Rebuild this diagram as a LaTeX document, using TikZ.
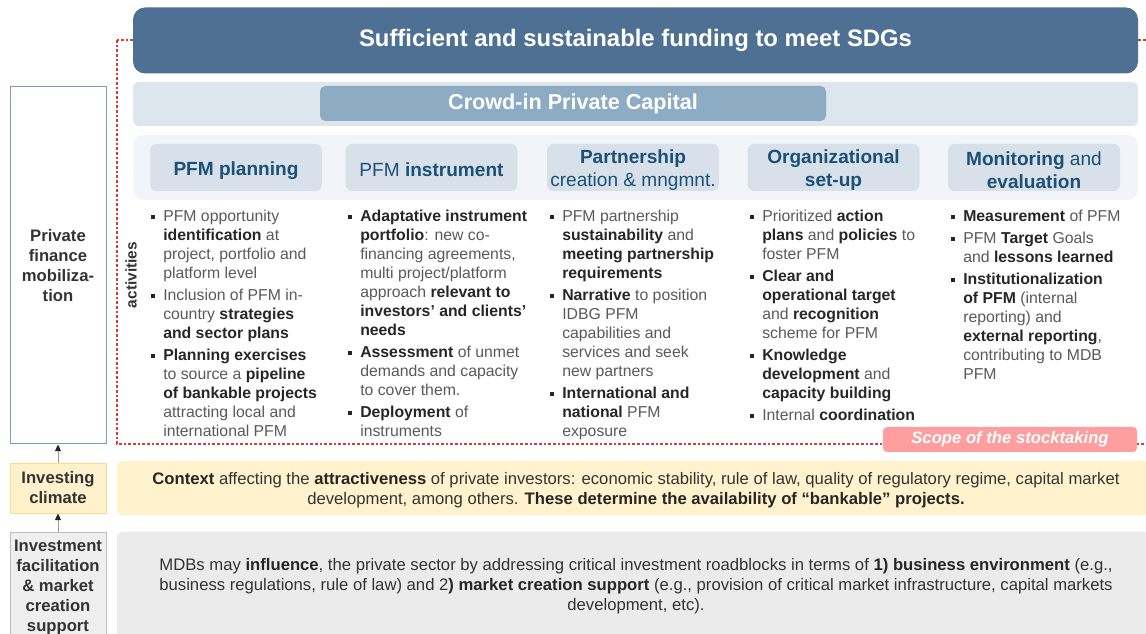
\documentclass[tikz,border=0pt]{standalone}
\usepackage{fontspec}
\setmainfont{Liberation Sans}
\usetikzlibrary{arrows.meta}

\definecolor{bannerblue}{HTML}{4E7092}
\definecolor{bandlight}{HTML}{DDE5ED}
\definecolor{crowdblue}{HTML}{8EABC4}
\definecolor{headband}{HTML}{F1F5F9}
\definecolor{headbox}{HTML}{D8E1EA}
\definecolor{headtext}{HTML}{1B5077}
\definecolor{txtgray}{HTML}{595959}
\definecolor{boldgray}{HTML}{262626}
\definecolor{sidetext}{HTML}{333333}
\definecolor{pfmborder}{HTML}{7E9CBF}
\definecolor{climfill}{HTML}{FFF1CC}
\definecolor{climborder}{HTML}{FFD98A}
\definecolor{ctxfill}{HTML}{FFF2CC}
\definecolor{facilfill}{HTML}{EFEFEF}
\definecolor{facilborder}{HTML}{BEBEBE}
\definecolor{mdbfill}{HTML}{EBEBEB}
\definecolor{scopered}{HTML}{D63A3A}
\definecolor{scopepink}{HTML}{FF9E9E}
\definecolor{arrowgray}{HTML}{9A9A9A}

% bullet square and the matching hanging indent
\newcommand{\bul}{\makebox[9pt][l]{\color{boldgray}\rule[0.15em]{3pt}{3pt}}}
\newcommand{\ind}{\hspace*{9pt}}
\newcommand{\bt}[1]{{\bfseries\color{boldgray}#1}}

\begin{document}
\begin{tikzpicture}[x=0.75pt, y=-0.75pt,
    band/.style={rounded corners=4.5pt, inner sep=0pt},
    head/.style={fill=headbox, rounded corners=5pt, minimum width=129pt, minimum height=35.25pt, inner sep=0pt},
    headlbl/.style={yshift=-2pt, inner sep=0pt, align=center, text=headtext,
      font=\fontsize{14.3}{17.25}\selectfont},
    items/.style={anchor=north west, inner sep=0pt, align=left, text=txtgray,
      font=\fontsize{11.85}{14.25}\selectfont},
    side/.style={draw, line width=0.75pt, minimum width=72pt, inner sep=0pt, align=center,
      text=sidetext, font=\bfseries\fontsize{12.5}{15}\selectfont},
    feeds/.style={draw=arrowgray, line width=0.75pt, -{Triangle[length=5pt,width=4.5pt,color=black!85]}}]

\useasboundingbox (0,0) rectangle (1146,634);

% stocktaking frame, partly hidden by the bands on top of it
\draw[scopered, line width=0.8pt, dash pattern=on 2pt off 1.5pt] (117,40) rectangle (1170,444);

% goal banner
\node[band, fill=bannerblue, rounded corners=9pt, minimum width=753.75pt, minimum height=49.5pt,
  text=white, font=\bfseries\fontsize{17.9}{20}\selectfont] (goal) at (635.5,40.5)
  {Sufficient and sustainable funding to meet SDGs};

% crowd-in band
\node[band, fill=bandlight, minimum width=753.75pt, minimum height=33pt] (crowdband) at (635.5,104) {};
\node[band, fill=crowdblue, rounded corners=4pt, minimum width=379.5pt, minimum height=26.25pt,
  text=white, font=\bfseries\fontsize{16.2}{18}\selectfont] (crowd) at (573,103.5) {Crowd-in Private Capital};

% activity headings
\node[band, fill=headband, rounded corners=8pt, minimum width=753.75pt, minimum height=48.75pt] (headband) at (635.5,167.5) {};
\node[head, label={[headlbl]center:\textbf{PFM planning}}] (plan) at (236,167.5) {};
\node[head, label={[headlbl]center:PFM \textbf{instrument}}] (instr) at (431.5,167.5) {};
\node[head, label={[headlbl]center:\textbf{Partnership}\\creation \& mngmnt.}] (partner) at (633,167.5) {};
\node[head, label={[headlbl]center:\textbf{Organizational}\\\textbf{set-up}}] (orga) at (833.5,167.5) {};
\node[head, label={[headlbl]center:\textbf{Monitoring} and\\\textbf{evaluation}}] (monit) at (1034,167.5) {};

\node[rotate=90, text=sidetext, font=\bfseries\fontsize{11.6}{13}\selectfont] (act) at (131,275) {activities};

% activity lists
\node[items] (planlist) at (151,210) {%
  \bul PFM opportunity\\
  \ind\bt{identification} at\\
  \ind project, portfolio and\\
  \ind platform level\\[2.25pt]
  \bul Inclusion of PFM in-\\
  \ind country \bt{strategies}\\
  \ind\bt{and sector plans}\\[2.25pt]
  \bul\bt{Planning exercises}\\
  \ind to source a \bt{pipeline}\\
  \ind\bt{of bankable projects}\\
  \ind attracting local and\\
  \ind international PFM};

\node[items] (instrlist) at (348,210) {%
  \bul\bt{Adaptative instrument}\\
  \ind\bt{portfolio}: new co-\\
  \ind financing agreements,\\
  \ind multi project/platform\\
  \ind approach \bt{relevant to}\\
  \ind\bt{investors’ and clients’}\\
  \ind\bt{needs}\\[2.25pt]
  \bul\bt{Assessment} of unmet\\
  \ind demands and capacity\\
  \ind to cover them.\\[2.25pt]
  \bul\bt{Deployment} of\\
  \ind instruments};

\node[items] (partnerlist) at (550,210) {%
  \bul PFM partnership\\
  \ind\bt{sustainability} and\\
  \ind\bt{meeting partnership}\\
  \ind\bt{requirements}\\[2.25pt]
  \bul\bt{Narrative} to position\\
  \ind IDBG PFM\\
  \ind capabilities and\\
  \ind services and seek\\
  \ind new partners\\[2.25pt]
  \bul\bt{International and}\\
  \ind\bt{national} PFM\\
  \ind exposure};

\node[items] (orgalist) at (750,210) {%
  \bul Prioritized \bt{action}\\
  \ind\bt{plans} and \bt{policies} to\\
  \ind foster PFM\\[2.25pt]
  \bul\bt{Clear and}\\
  \ind\bt{operational target}\\
  \ind and \bt{recognition}\\
  \ind scheme for PFM\\[2.25pt]
  \bul\bt{Knowledge}\\
  \ind\bt{development} and\\
  \ind\bt{capacity building}\\[2.25pt]
  \bul Internal \bt{coordination}};

\node[items] (monitlist) at (951,210) {%
  \bul\bt{Measurement} of PFM\\[2.25pt]
  \bul PFM \bt{Target} Goals\\
  \ind and \bt{lessons learned}\\[2.25pt]
  \bul\bt{Institutionalization}\\
  \ind\bt{of PFM} (internal\\
  \ind reporting) and\\
  \ind\bt{external reporting},\\
  \ind contributing to MDB\\
  \ind PFM};

\node[band, fill=scopepink, rounded corners=3pt, minimum width=190.5pt, minimum height=18.75pt,
  text=white, font=\bfseries\itshape\fontsize{12.5}{14}\selectfont] (scope) at (1010,439.5) {Scope of the stocktaking};

% context and influence bands
\node[band, fill=ctxfill, minimum width=774.75pt, minimum height=40.5pt] (ctxband) at (633.5,488) {};
\node[align=center, inner sep=0pt, text=sidetext, font=\fontsize{12.5}{15}\selectfont] (ctx) at (636,490) {%
  \bt{Context} affecting the \bt{attractiveness} of private investors: economic stability, rule of law, quality of regulatory regime, capital market\\
  development, among others. \bt{These determine the availability of “bankable” projects.}};

\node[band, fill=mdbfill, minimum width=774.75pt, minimum height=86pt] (mdbband) at (633.5,589) {};
\node[align=center, inner sep=0pt, text=sidetext, font=\fontsize{12.5}{15}\selectfont] (mdb) at (636,586) {%
  MDBs may \bt{influence}, the private sector by addressing critical investment roadblocks in terms of \bt{1) business environment} (e.g.,\\
  business regulations, rule of law) and 2\bt{) market creation support} (e.g., provision of critical market infrastructure, capital markets\\
  development, etc).};

% left column of levels
\node[side, draw=pfmborder, fill=white, minimum height=267.75pt] (pfm) at (58,265.5) {Private\\finance\\mobiliza-\\tion};
\node[side, draw=climborder, fill=climfill, minimum height=37.5pt] (clim) at (58,488) {Investing\\climate};
\node[side, draw=facilborder, fill=facilfill, minimum height=82.5pt] (facil) at (58,587) {Investment\\facilitation\\\& market\\creation\\support};

\draw[feeds] (clim) -- (pfm);
\draw[feeds] (facil) -- (clim);
\end{tikzpicture}
\end{document}
